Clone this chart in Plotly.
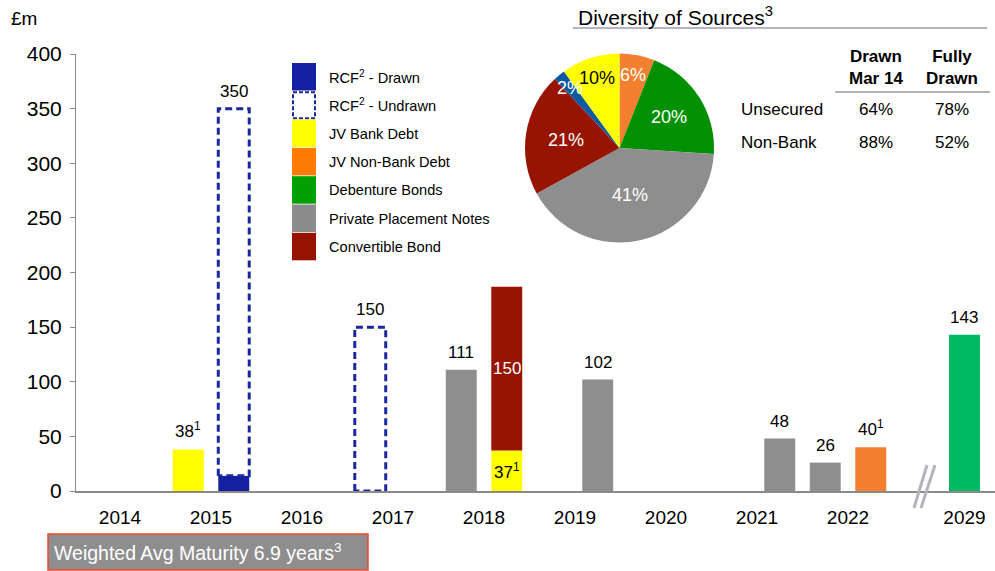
import math
import plotly.graph_objects as go

FONT = "Liberation Sans, Arial, sans-serif"

# ---- Debt maturity profile (GBP m) ----
YEARS = ["2014", "2015", "2016", "2017", "2018", "2019", "2020", "2021", "2022", "2029"]
YEAR_POS = [0, 1, 2, 3, 4, 5, 6, 7, 8, 9.28]
SLOT_OFFSET = {"H1": -0.25, "H2": 0.25, "FY": 0.0}

RCF_DRAWN_YEARS = ["2015"]
RCF_DRAWN_SLOTS = ["H2"]
RCF_DRAWN = [14]

RCF_UNDRAWN_YEARS = ["2015", "2017"]
RCF_UNDRAWN_SLOTS = ["H2", "H1"]
RCF_UNDRAWN = [336, 150]

JV_BANK_YEARS = ["2015", "2018"]
JV_BANK_SLOTS = ["H1", "H2"]
JV_BANK = [38, 37]

JV_NONBANK_YEARS = ["2022"]
JV_NONBANK_SLOTS = ["H2"]
JV_NONBANK = [40]

DEBENTURE_YEARS = ["2029"]
DEBENTURE_SLOTS = ["FY"]
DEBENTURE = [143]

PPN_YEARS = ["2018", "2019", "2021", "2022"]
PPN_SLOTS = ["H1", "H2", "H2", "H1"]
PPN = [111, 102, 48, 26]

CONVERTIBLE_YEARS = ["2018"]
CONVERTIBLE_SLOTS = ["H2"]
CONVERTIBLE = [150]

# ---- Diversity of sources (%) ----
PIE_NAMES = ["JV Non-Bank Debt", "Debenture Bonds", "Private Placement Notes",
             "Convertible Bond", "RCF - Drawn", "JV Bank Debt"]
PIE_VALUES = [6, 20, 41, 21, 2, 10]

TABLE_COLS = ["Drawn<br>Mar 14", "Fully<br>Drawn"]
TABLE_ROWS = ["Unsecured", "Non-Bank"]
TABLE_VALUES = [["64%", "78%"], ["88%", "52%"]]

WAM_TEXT = "Weighted Avg Maturity 6.9 years<sup>3</sup>"

# series drawn in stacking order
SERIES = [
    dict(group="RCF", years=RCF_DRAWN_YEARS, slots=RCF_DRAWN_SLOTS, values=RCF_DRAWN,
         color="#1420A0", note="", dashed=False, text_color="white"),
    dict(group="RCF", years=RCF_UNDRAWN_YEARS, slots=RCF_UNDRAWN_SLOTS, values=RCF_UNDRAWN,
         color="#1A28A0", note="", dashed=True, text_color="black"),
    dict(group="JVB", years=JV_BANK_YEARS, slots=JV_BANK_SLOTS, values=JV_BANK,
         color="#FFFF00", note="1", dashed=False, text_color="black"),
    dict(group="JVN", years=JV_NONBANK_YEARS, slots=JV_NONBANK_SLOTS, values=JV_NONBANK,
         color="#F47F2E", note="1", dashed=False, text_color="black"),
    dict(group="DEB", years=DEBENTURE_YEARS, slots=DEBENTURE_SLOTS, values=DEBENTURE,
         color="#00B960", note="", dashed=False, text_color="black"),
    dict(group="PPN", years=PPN_YEARS, slots=PPN_SLOTS, values=PPN,
         color="#8E8E8E", note="", dashed=False, text_color="black"),
    dict(group="CB", years=CONVERTIBLE_YEARS, slots=CONVERTIBLE_SLOTS, values=CONVERTIBLE,
         color="#961400", note="", dashed=False, text_color="white"),
]

BAR_WIDTH = 0.34

# page geometry (pixels)
W, H = 995, 571
PL, PT, PR, PB = 76, 20, 0, 80
PW, PH = W - PL - PR, H - PT - PB
PLOT_H = 437  # height of the bar axis


def px(x):
    return (x - PL) / PW


def py(y):
    return (PT + PH - y) / PH


fig = go.Figure()

# build stacks per bar position
stacks = {}
for s in SERIES:
    s["x"], s["base"] = [], []
    for yr, sl, v in zip(s["years"], s["slots"], s["values"]):
        x = YEAR_POS[YEARS.index(yr)] + SLOT_OFFSET[sl]
        st = stacks.setdefault(x, [])
        b = sum(seg[1] for seg in st)
        st.append((s, v, b))
        s["x"].append(x)
        s["base"].append(b)

for s in SERIES:
    if not s["dashed"]:
        fig.add_trace(go.Bar(
            x=s["x"], y=s["values"], base=s["base"], width=BAR_WIDTH,
            marker=dict(color=s["color"], line=dict(width=0)),
            hoverinfo="skip", showlegend=False))

# undrawn facility: dashed outline boxes
for s in SERIES:
    if s["dashed"]:
        xs, ys = [], []
        for x, v, b in zip(s["x"], s["values"], s["base"]):
            l, r = x - BAR_WIDTH / 2, x + BAR_WIDTH / 2
            xs += [l, l, r, r, l, None]
            ys += [b, b + v, b + v, b, b, None]
        fig.add_trace(go.Scatter(
            x=xs, y=ys, mode="lines", fill="toself", fillcolor="white",
            line=dict(color=s["color"], width=3, dash="7px,4px"),
            hoverinfo="skip", showlegend=False))

annotations = []
for x, st in stacks.items():
    groups = {seg[0]["group"] for seg in st}
    if len(groups) == 1:
        total = sum(seg[1] for seg in st)
        note = st[0][0]["note"]
        txt = f"{total}" + (f"<sup>{note}</sup>" if note else "")
        annotations.append(dict(x=x, y=total, xref="x", yref="y", text=txt,
                                showarrow=False, yanchor="bottom", yshift=6,
                                font=dict(size=17, color="black", family=FONT)))
    else:
        for s, v, b in st:
            txt = f"{v}" + (f"<sup>{s['note']}</sup>" if s["note"] else "")
            annotations.append(dict(x=x, y=b + v / 2, xref="x", yref="y", text=txt,
                                    showarrow=False, yanchor="middle",
                                    font=dict(size=17, color=s["text_color"], family=FONT)))

# ---- pie of sources ----
PIE_COLORS = ["#F47F2E", "#009000", "#8E8E8E", "#961400", "#0E5AA0", "#FFFF00"]
PIE_TEXT_COLORS = ["white", "white", "white", "white", "white", "black"]
PIE_LABEL_RADIUS = [0.79, 0.62, 0.51, 0.57, 0.83, 0.78]
pcx, pcy, pr = 619.5, 148, 94.5
fig.add_trace(go.Pie(
    values=PIE_VALUES, labels=PIE_NAMES, sort=False, direction="clockwise", rotation=0,
    marker=dict(colors=PIE_COLORS, line=dict(width=0)), textinfo="none",
    hoverinfo="skip", showlegend=False,
    domain=dict(x=[px(pcx - pr), px(pcx + pr)], y=[py(pcy + pr), py(pcy - pr)])))

cum = 0
for v, col, f in zip(PIE_VALUES, PIE_TEXT_COLORS, PIE_LABEL_RADIUS):
    ang = math.radians(360 * (cum + v / 2) / sum(PIE_VALUES))
    lx = pcx + pr * f * math.sin(ang)
    ly = pcy - pr * f * math.cos(ang)
    annotations.append(dict(x=px(lx), y=py(ly), xref="paper", yref="paper",
                            text=f"{v}%", showarrow=False, xanchor="center", yanchor="middle",
                            font=dict(size=18, color=col, family=FONT)))
    cum += v

shapes = []

# pie heading
annotations.append(dict(x=px(576), y=py(16), xref="paper", yref="paper",
                        text="Diversity of Sources<sup>3</sup>", showarrow=False,
                        xanchor="left", yanchor="middle",
                        font=dict(size=21, color="black", family=FONT)))
shapes.append(dict(type="line", xref="paper", yref="paper", x0=px(573), x1=px(987),
                   y0=py(28), y1=py(28), line=dict(color="#B4B4C4", width=2)))

# table
TABLE_COL_X = [876, 952]
for cx, head in zip(TABLE_COL_X, TABLE_COLS):
    annotations.append(dict(x=px(cx), y=py(67.5), xref="paper", yref="paper",
                            text=f"<b>{head}</b>", showarrow=False, align="center",
                            xanchor="center", yanchor="middle",
                            font=dict(size=17, color="black", family=FONT)))
shapes.append(dict(type="line", xref="paper", yref="paper", x0=px(835), x1=px(990),
                   y0=py(92), y1=py(92), line=dict(color="#9A9A9A", width=1.5)))
for ry, row, vals in zip([110, 142], TABLE_ROWS, TABLE_VALUES):
    annotations.append(dict(x=px(739), y=py(ry), xref="paper", yref="paper", text=row,
                            showarrow=False, xanchor="left", yanchor="middle",
                            font=dict(size=17, color="black", family=FONT)))
    for cx, v in zip(TABLE_COL_X, vals):
        annotations.append(dict(x=px(cx), y=py(ry), xref="paper", yref="paper", text=v,
                                showarrow=False, xanchor="center", yanchor="middle",
                                font=dict(size=17, color="black", family=FONT)))

# legend
LEGEND_ITEMS = [
    ("RCF<sup>2</sup> - Drawn", "#1420A0", False),
    ("RCF<sup>2</sup> - Undrawn", "#1A28A0", True),
    ("JV Bank Debt", "#FFFF00", False),
    ("JV Non-Bank Debt", "#FF7A00", False),
    ("Debenture Bonds", "#00A000", False),
    ("Private Placement Notes", "#8C8C8C", False),
    ("Convertible Bond", "#961300", False),
]
for i, (label, col, dashed) in enumerate(LEGEND_ITEMS):
    top = 63 + i * 28.3
    if dashed:
        shapes.append(dict(type="rect", xref="paper", yref="paper",
                           x0=px(293), x1=px(315), y0=py(top + 27), y1=py(top + 1),
                           fillcolor="white", line=dict(color=col, width=2, dash="4px,2px")))
    else:
        shapes.append(dict(type="rect", xref="paper", yref="paper",
                           x0=px(292), x1=px(316), y0=py(top + 27.5), y1=py(top),
                           fillcolor=col, line=dict(width=0)))
    annotations.append(dict(x=px(327), y=py(top + 14), xref="paper", yref="paper",
                            text=label, showarrow=False, xanchor="left", yanchor="middle",
                            font=dict(size=14.6, color="black", family=FONT)))

# unit label
annotations.append(dict(x=px(9), y=py(18), xref="paper", yref="paper", text="£m",
                        showarrow=False, xanchor="left", yanchor="middle",
                        font=dict(size=19, color="black", family=FONT)))

# axis break between 2022 and 2029
for x0, x1 in [(914, 927), (921, 935)]:
    shapes.append(dict(type="line", xref="paper", yref="paper", x0=px(x0), x1=px(x1),
                       y0=py(508), y1=py(465), line=dict(color="#B4B4BC", width=3)))

# weighted average maturity box
shapes.append(dict(type="rect", xref="paper", yref="paper", x0=px(48), x1=px(368),
                   y0=py(570), y1=py(534), fillcolor="#8E8E8E",
                   line=dict(color="#F04A2A", width=1.5)))
annotations.append(dict(x=px(52), y=py(552), xref="paper", yref="paper", text=WAM_TEXT,
                        showarrow=False, xanchor="left", yanchor="middle",
                        font=dict(size=19.5, color="white", family=FONT)))

fig.update_layout(
    width=W, height=H, margin=dict(l=PL, r=PR, t=PT, b=PB, pad=0),
    paper_bgcolor="white", plot_bgcolor="white",
    barmode="overlay", showlegend=False,
    font=dict(family=FONT, color="black"),
    xaxis=dict(range=[(PL - 120) / 91, (W - PR - 120) / 91], tickvals=YEAR_POS, ticktext=YEARS,
               showline=True, linecolor="#8A8A8A", linewidth=1.5, ticks="",
               showgrid=False, zeroline=False, tickfont=dict(size=19, family=FONT),
               ticklabelstandoff=8, fixedrange=True),
    yaxis=dict(range=[0, 400], domain=[0, PLOT_H / PH], tickvals=list(range(0, 401, 50)),
               showline=True, linecolor="#8A8A8A", linewidth=1, ticks="outside", ticklen=5,
               tickcolor="#8A8A8A", showgrid=False, zeroline=False,
               tickfont=dict(size=21, family=FONT), ticklabelstandoff=4, fixedrange=True),
    shapes=shapes, annotations=annotations,
)

fig.write_html("out.html")
